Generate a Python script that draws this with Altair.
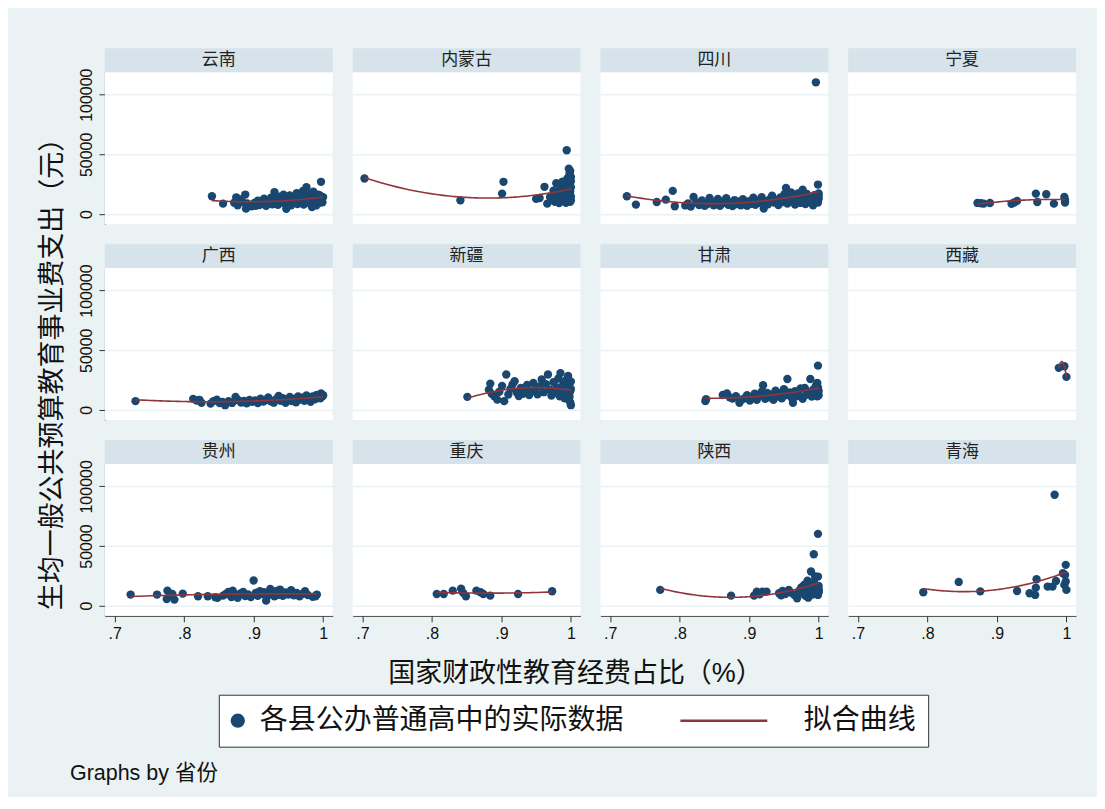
import altair as alt
import pandas as pd

# ---------------- data ----------------
PROVINCES = ["云南", "内蒙古", "四川", "宁夏", "广西", "新疆",
             "甘肃", "西藏", "贵州", "重庆", "陕西", "青海"]

yunnan = [(0.840, 14900), (0.856, 8700), (0.872, 9500), (0.875, 14000), (0.877, 7300),
          (0.880, 12500), (0.884, 10100), (0.888, 16300), (0.889, 4500), (0.891, 8800),
          (0.897, 6500), (0.901, 9200), (0.903, 6800), (0.906, 11200), (0.908, 7600),
          (0.911, 10400), (0.913, 8300), (0.915, 12800), (0.918, 6900), (0.920, 11600),
          (0.922, 9400), (0.925, 13700), (0.927, 8100), (0.930, 18400), (0.931, 10600),
          (0.933, 12200), (0.935, 7800), (0.937, 14600), (0.939, 9900), (0.941, 11300),
          (0.943, 16200), (0.945, 8700), (0.947, 4400), (0.948, 12900), (0.950, 10200),
          (0.952, 15500), (0.954, 7300), (0.956, 13300), (0.958, 9600), (0.960, 11800),
          (0.962, 17400), (0.963, 8400), (0.965, 14200), (0.967, 10900), (0.969, 12600),
          (0.971, 19300), (0.972, 7900), (0.974, 15800), (0.976, 22500), (0.977, 11200),
          (0.979, 13900), (0.980, 9300), (0.982, 16900), (0.984, 5800), (0.985, 12300),
          (0.986, 18700), (0.988, 10500), (0.989, 14600), (0.990, 7200), (0.991, 11900),
          (0.993, 16300), (0.994, 9100), (0.995, 13400), (0.996, 11100), (0.997, 27000),
          (0.998, 12800), (0.999, 9800), (1.000, 14200), (0.998, 10600), (0.996, 15300)]

neimenggu = [(0.703, 29800), (0.841, 11500), (0.901, 17100), (0.903, 27000), (0.950, 12700),
             (0.955, 13400), (0.962, 22800), (0.966, 8700), (0.970, 14200), (0.973, 11800),
             (0.975, 19600), (0.977, 10300), (0.979, 25800), (0.980, 15600), (0.982, 12400),
             (0.983, 9200), (0.985, 21300), (0.986, 17200), (0.987, 13500), (0.988, 27200),
             (0.989, 10900), (0.990, 15800), (0.991, 19900), (0.992, 12300), (0.993, 23500),
             (0.993, 9400), (0.994, 53500), (0.994, 17800), (0.995, 14100), (0.995, 29800),
             (0.996, 11200), (0.996, 20800), (0.997, 38000), (0.997, 16300), (0.998, 25200),
             (0.998, 13000), (0.998, 33800), (0.999, 10300), (0.999, 18900), (1.000, 22400),
             (1.000, 31000), (1.000, 14800), (1.000, 27500), (0.999, 36000), (1.000, 11600)]

sichuan = [(0.724, 14900), (0.737, 7900), (0.767, 10100), (0.780, 12100), (0.790, 19400),
           (0.793, 6500), (0.808, 7200), (0.812, 8900), (0.816, 6300), (0.820, 14300),
           (0.824, 9800), (0.828, 7600), (0.832, 11300), (0.836, 6800), (0.840, 8400),
           (0.843, 13500), (0.846, 10200), (0.849, 7400), (0.852, 9100), (0.855, 12600),
           (0.858, 6900), (0.861, 8700), (0.864, 10900), (0.867, 13200), (0.870, 7800),
           (0.873, 9600), (0.876, 6600), (0.879, 11700), (0.882, 8300), (0.885, 10400),
           (0.888, 7300), (0.891, 12400), (0.894, 9200), (0.897, 6900), (0.900, 10800),
           (0.903, 8600), (0.906, 13600), (0.909, 7700), (0.912, 11200), (0.915, 9400),
           (0.918, 14100), (0.921, 4600), (0.924, 10300), (0.927, 8200), (0.930, 12700),
           (0.933, 15400), (0.936, 9700), (0.939, 11800), (0.942, 7600), (0.945, 13900),
           (0.948, 10100), (0.951, 16800), (0.953, 21900), (0.955, 8800), (0.958, 12300),
           (0.960, 18200), (0.962, 10600), (0.964, 14700), (0.966, 7900), (0.968, 13100),
           (0.970, 17300), (0.972, 11400), (0.974, 9300), (0.976, 15600), (0.977, 20400),
           (0.979, 12600), (0.981, 8400), (0.983, 16900), (0.984, 11700), (0.986, 14200),
           (0.988, 9900), (0.989, 12700), (0.991, 13300), (0.992, 7400), (0.994, 15900),
           (0.995, 11000), (0.996, 110400), (0.997, 13600), (0.998, 13800), (0.999, 24700),
           (1.000, 17200), (0.999, 9600), (1.000, 12800), (0.998, 12200), (1.000, 15100)]

ningxia = [(0.872, 9300), (0.877, 9000), (0.881, 8700), (0.890, 9200), (0.921, 8600),
           (0.925, 9700), (0.929, 11000), (0.956, 17100), (0.958, 10100), (0.971, 16600),
           (0.982, 8700), (0.997, 14300), (0.998, 11800), (0.998, 9600)]

guangxi = [(0.730, 7300), (0.813, 9200), (0.818, 7800), (0.822, 8400), (0.825, 5900),
           (0.838, 5200), (0.842, 7300), (0.847, 8600), (0.851, 5700), (0.855, 6600),
           (0.859, 3900), (0.864, 7200), (0.869, 5800), (0.874, 10900), (0.878, 8100),
           (0.882, 6200), (0.886, 7400), (0.890, 5400), (0.894, 8300), (0.898, 6700),
           (0.902, 7900), (0.906, 5600), (0.910, 9300), (0.914, 6900), (0.918, 8200),
           (0.921, 10400), (0.925, 7100), (0.929, 6000), (0.932, 8800), (0.936, 11600),
           (0.939, 7600), (0.942, 9700), (0.946, 5900), (0.949, 8500), (0.952, 10800),
           (0.955, 7300), (0.958, 9200), (0.961, 6400), (0.964, 11200), (0.967, 8700),
           (0.970, 10100), (0.973, 7500), (0.976, 12100), (0.979, 9400), (0.982, 6700),
           (0.985, 11300), (0.988, 8900), (0.991, 12600), (0.994, 10200), (0.997, 13700),
           (0.999, 11400), (1.000, 12300), (0.996, 9700)]

xinjiang = [(0.851, 10900), (0.882, 16900), (0.884, 22000), (0.886, 13400), (0.890, 11400),
            (0.894, 8600), (0.897, 15200), (0.901, 20100), (0.904, 7300), (0.907, 29600),
            (0.910, 12800), (0.913, 17600), (0.916, 21300), (0.919, 24000), (0.922, 14700),
            (0.925, 11600), (0.928, 18400), (0.931, 13500), (0.934, 16200), (0.937, 20900),
            (0.940, 12400), (0.943, 15600), (0.946, 22600), (0.949, 17800), (0.952, 13100),
            (0.955, 19700), (0.958, 25400), (0.961, 14800), (0.964, 21600), (0.967, 29600),
            (0.970, 16900), (0.972, 11900), (0.975, 23200), (0.977, 14200), (0.980, 18800),
            (0.982, 26300), (0.984, 11400), (0.985, 30800), (0.987, 16400), (0.989, 21200),
            (0.991, 9700), (0.993, 24900), (0.995, 13600), (0.996, 28400), (0.997, 8600),
            (0.998, 19200), (0.999, 15300), (1.000, 3900), (1.000, 23700), (0.999, 6300),
            (1.000, 17400), (0.998, 11000)]

gansu = [(0.837, 7300), (0.838, 8900), (0.862, 12400), (0.868, 13700), (0.872, 10500),
         (0.876, 9400), (0.881, 11400), (0.886, 5900), (0.890, 8800), (0.894, 9900),
         (0.897, 12200), (0.901, 7700), (0.905, 10800), (0.908, 13600), (0.911, 8500),
         (0.914, 11700), (0.918, 15300), (0.920, 20600), (0.923, 9200), (0.926, 14200),
         (0.929, 10600), (0.932, 12900), (0.935, 8400), (0.938, 16100), (0.941, 11200),
         (0.944, 13800), (0.947, 9700), (0.950, 17400), (0.953, 12300), (0.955, 25900),
         (0.958, 14600), (0.961, 10300), (0.963, 5900), (0.966, 15700), (0.968, 11400),
         (0.971, 13000), (0.974, 17900), (0.977, 9300), (0.980, 18400), (0.982, 12700),
         (0.985, 14900), (0.988, 25900), (0.990, 11100), (0.992, 16800), (0.994, 13400),
         (0.996, 20200), (0.998, 22600), (0.999, 37100), (0.998, 11400), (1.000, 15800),
         (1.000, 12300), (0.999, 18700)]

xizang = [(0.989, 35200), (0.997, 36500), (1.000, 27600)]

guizhou = [(0.723, 9300), (0.761, 9300), (0.775, 5600), (0.776, 12600), (0.780, 8600),
           (0.783, 9900), (0.786, 5100), (0.798, 10100), (0.820, 7900), (0.834, 7900),
           (0.845, 7100), (0.848, 6500), (0.856, 8400), (0.860, 9800), (0.864, 11600),
           (0.868, 7200), (0.870, 12600), (0.873, 8900), (0.877, 6500), (0.881, 10300),
           (0.885, 11500), (0.888, 8000), (0.892, 9400), (0.896, 7300), (0.900, 21100),
           (0.903, 10600), (0.906, 8300), (0.909, 12100), (0.912, 9700), (0.915, 11300),
           (0.918, 4200), (0.921, 8700), (0.924, 14000), (0.927, 10200), (0.930, 7800),
           (0.933, 12400), (0.936, 9100), (0.938, 13500), (0.942, 8200), (0.946, 11000),
           (0.950, 9300), (0.954, 12900), (0.958, 8600), (0.962, 10700), (0.966, 7900),
           (0.970, 9800), (0.974, 12100), (0.978, 8900), (0.985, 7400), (0.989, 7900),
           (0.991, 9300)]

chongqing = [(0.807, 9800), (0.817, 9800), (0.830, 12600), (0.842, 14300), (0.845, 10700),
             (0.849, 7900), (0.864, 12600), (0.870, 11200), (0.874, 9800), (0.884, 8400),
             (0.924, 9800), (0.973, 12100)]

shaanxi = [(0.772, 13200), (0.874, 8400), (0.907, 8400), (0.911, 11800), (0.915, 9600),
           (0.919, 11800), (0.925, 11800), (0.943, 10400), (0.946, 8600), (0.948, 12300),
           (0.952, 9800), (0.957, 13200), (0.960, 10900), (0.965, 9000), (0.969, 6200),
           (0.972, 12600), (0.975, 15300), (0.977, 10400), (0.979, 17400), (0.981, 8300),
           (0.982, 13800), (0.984, 21000), (0.985, 6700), (0.986, 16200), (0.987, 11200),
           (0.989, 28600), (0.990, 14600), (0.991, 9300), (0.992, 18800), (0.993, 20200),
           (0.993, 43100), (0.994, 12400), (0.995, 24600), (0.996, 10100), (0.997, 15800),
           (0.998, 14700), (0.999, 60200), (0.999, 24400), (0.999, 9000), (1.000, 13600),
           (1.000, 12300), (1.000, 11300), (1.000, 16500)]

qinghai = [(0.794, 11200), (0.845, 19900), (0.876, 12000), (0.929, 12300), (0.947, 10400),
           (0.955, 9000), (0.956, 15100), (0.957, 22100), (0.973, 16000), (0.980, 16000),
           (0.983, 93000), (0.985, 20700), (0.995, 27200), (0.999, 34200), (0.997, 17400),
           (1.000, 13200), (0.998, 25800), (0.999, 20300)]

X_TICKS = [0.7, 0.8, 0.9, 1.0]
Y_TICKS = [0, 50000, 100000]

POINT_LABEL = "各县公办普通高中的实际数据"
LINE_LABEL = "拟合曲线"
X_TITLE = "国家财政性教育经费占比（%）"
Y_TITLE = "生均一般公共预算教育事业费支出（元）"
FOOT = "Graphs by 省份"

# ---------------- table for the library ----------------
by_province = {
    "云南": yunnan, "内蒙古": neimenggu, "四川": sichuan, "宁夏": ningxia,
    "广西": guangxi, "新疆": xinjiang, "甘肃": gansu, "西藏": xizang,
    "贵州": guizhou, "重庆": chongqing, "陕西": shaanxi, "青海": qinghai,
}
rows = []
for p in PROVINCES:
    for xv, yv in by_province[p]:
        rows.append({"province": p, "x": xv, "y": yv})
df = pd.DataFrame(rows)

# ---------------- style ----------------
FONT = "Liberation Sans, Noto Sans CJK SC, sans-serif"
BG = "#eaf2f3"
STRIP = "#d7e3ea"
NAVY = "#1a476f"
MAROON = "#90353b"
W, H, SH = 228, 152, 24

xscale = alt.Scale(domain=[0.686, 1.0138], nice=False, zero=False)
yscale = alt.Scale(domain=[-8500, 118800], nice=False, zero=False)
cscale = alt.Scale(domain=[POINT_LABEL, LINE_LABEL], range=[NAVY, MAROON])

xaxis = alt.Axis(values=X_TICKS, title=None, grid=False, labelFlush=False,
                 labelExpr="datum.value >= 0.999 ? '1' : substring(format(datum.value, '.1f'), 1)")
yaxis = alt.Axis(values=Y_TICKS, title=None, grid=True, format="d", labelFlush=False,
                 labelAngle=270, labelAlign="center", labelBaseline="bottom")

IS_LINE = "datum.value === '拟合曲线'"
legend = alt.Legend(
    title=None, orient="none", legendX=114, legendY=623, direction="horizontal",
    fillColor="white", strokeColor="#333", padding=12,
    labelFont=FONT, labelFontSize=28, labelColor="#111", labelLimit=0,
    columnPadding=51,
    labelOffset={"expr": f"{IS_LINE} ? 66 : 8"},
    symbolType={"expr": f"{IS_LINE} ? 'stroke' : 'circle'"},
    symbolSize={"expr": f"{IS_LINE} ? 7569 : 140"},
    symbolStrokeWidth=2.5,
    symbolOffset={"expr": f"{IS_LINE} ? 29.5 : -7"},
    symbolFillColor={"expr": f"{IS_LINE} ? 'transparent' : '{NAVY}'"},
    symbolStrokeColor={"expr": f"{IS_LINE} ? '{MAROON}' : '{NAVY}'"},
)

base = alt.Chart()

strip = base.transform_aggregate(n="count()", groupby=["province"]).mark_rect(
    color=STRIP).encode(x=alt.value(0), x2=alt.value(W), y=alt.value(-SH), y2=alt.value(0))

strip_text = base.transform_aggregate(n="count()", groupby=["province"]).mark_text(
    font=FONT, fontSize=17, color="#222", baseline="middle", align="center").encode(
    x=alt.value(W / 2), y=alt.value(-SH / 2), text="province:N")

points = base.transform_calculate(series=f"'{POINT_LABEL}'").mark_circle(
    size=70, opacity=1).encode(
    x=alt.X("x:Q", scale=xscale, axis=xaxis),
    y=alt.Y("y:Q", scale=yscale, axis=yaxis),
    color=alt.Color("series:N", scale=cscale, legend=legend),
)

fit = base.transform_regression("x", "y", method="poly", order=2, groupby=["province"]).transform_calculate(
    series=f"'{LINE_LABEL}'").mark_line(strokeWidth=1.6).encode(
    x=alt.X("x:Q", scale=xscale, axis=xaxis),
    y=alt.Y("y:Q", scale=yscale, axis=yaxis),
    color=alt.Color("series:N", scale=cscale, legend=legend),
)

panel = alt.layer(strip, strip_text, points, fit).properties(width=W, height=H)

hidden_header = alt.Header(labels=False, labelFontSize=0, labelPadding=0, labelExpr="''",
                           title=None)

fac = panel.facet(
    facet=alt.Facet("province:N", sort=PROVINCES, title=None, header=hidden_header),
    columns=4, spacing={"row": 20, "column": 20}, data=df,
).properties(title=alt.TitleParams(X_TITLE, orient="bottom", anchor="middle", fontSize=27,
                                   font=FONT, fontWeight="normal", color="#111", offset=19, dx=-2))

mid = alt.vconcat(fac).properties(
    title=alt.TitleParams(Y_TITLE, orient="left", anchor="middle", fontSize=27, font=FONT,
                          fontWeight="normal", color="#111", offset=12))

chart = alt.vconcat(mid).properties(
    title=alt.TitleParams(FOOT, orient="bottom", anchor="start", fontSize=21.5, font=FONT,
                          fontWeight="normal", color="#111", offset=16, dx=31)
).configure(
    background=BG, padding={"left": 30, "top": 40, "right": 21, "bottom": 12}, font=FONT,
).configure_view(stroke=None, fill="white").configure_axis(
    labelFont=FONT, labelFontSize=16, labelColor="#111", domainColor="#333", domainWidth=1,
    tickColor="#333", tickWidth=1, tickSize=6, labelPadding=4,
    gridColor=BG, gridWidth=1.5,
).configure_headerFacet(labels=False, labelFontSize=0, labelPadding=0)

chart.save("out.html", embed_options={"renderer": "svg", "actions": False})
